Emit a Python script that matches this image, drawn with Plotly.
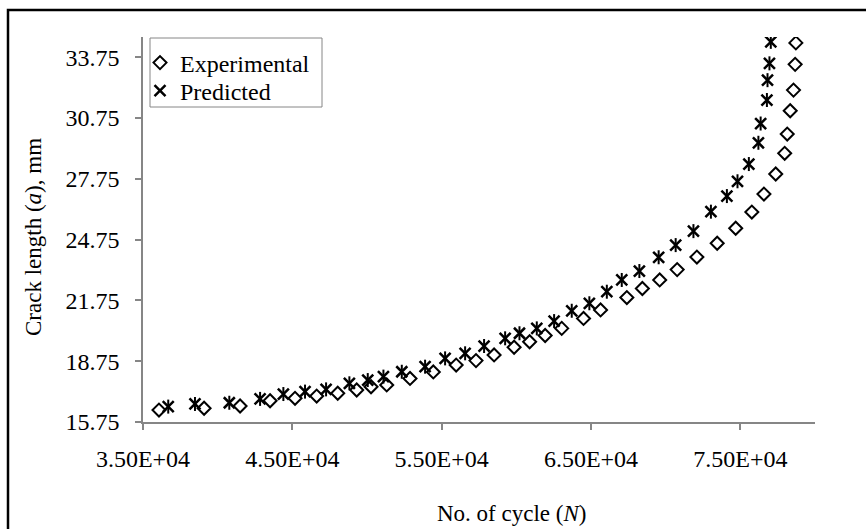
import plotly.graph_objects as go

# ---- data ----
exp_N = [36070, 39090, 41500, 43510, 45180, 46630, 48040, 49310, 50270, 51320,
         52880, 54440, 55970, 57300, 58510, 59850, 60890, 61930, 63040, 64500,
         65640, 67400, 68440, 69600, 70770, 72090, 73450, 74690, 75770, 76580,
         77370, 77970, 78140, 78340, 78560, 78670, 78720]
exp_a = [16.34, 16.43, 16.54, 16.80, 16.92, 17.03, 17.17, 17.33, 17.49, 17.58,
         17.90, 18.22, 18.56, 18.78, 19.06, 19.44, 19.71, 20.02, 20.37, 20.86,
         21.28, 21.89, 22.34, 22.76, 23.27, 23.89, 24.57, 25.31, 26.11, 27.00,
         27.99, 29.01, 29.96, 31.11, 32.13, 33.40, 34.46]

pred_N = [36690, 38480, 40780, 42840, 44400, 45850, 47260, 48820, 50050, 51100,
          52330, 53890, 55230, 56570, 57840, 59250, 60210, 61370, 62530, 63710,
          64890, 66060, 67060, 68240, 69530, 70670, 71860, 73030, 74100, 74810,
          75570, 76210, 76360, 76780, 76820, 76950, 77040]
pred_a = [16.51, 16.64, 16.70, 16.89, 17.13, 17.25, 17.36, 17.66, 17.82, 17.99,
          18.23, 18.48, 18.89, 19.14, 19.50, 19.88, 20.13, 20.37, 20.73, 21.24,
          21.61, 22.18, 22.76, 23.20, 23.88, 24.48, 25.17, 26.13, 26.90, 27.63,
          28.48, 29.53, 30.48, 31.64, 32.62, 33.45, 34.51]

x_tickvals = [35000, 45000, 55000, 65000, 75000]
x_ticktext = ["3.50E+04", "4.50E+04", "5.50E+04", "6.50E+04", "7.50E+04"]
y_tickvals = [15.75, 18.75, 21.75, 24.75, 27.75, 30.75, 33.75]

FONT = "Liberation Serif, Times New Roman, serif"
AXIS_GRAY = "#868686"
TICK_SIZE = 24
TITLE_SIZE = 23
LEGEND_SIZE = 24

fig = go.Figure()
fig.add_trace(go.Scatter(
    x=exp_N, y=exp_a, mode="markers", name="Experimental", legend="legend",
    marker=dict(symbol="diamond-open", size=10, color="black",
                line=dict(color="black", width=2)),
))
fig.add_trace(go.Scatter(
    x=pred_N, y=pred_a, mode="markers", name="Predicted", legend="legend2",
    legendgroup="pred",
    marker=dict(symbol="x-thin-open", size=11, color="black",
                line=dict(color="black", width=2.5)),
))
fig.add_trace(go.Scatter(
    x=pred_N, y=pred_a, mode="markers", name="Predicted", legend="legend2",
    legendgroup="pred", showlegend=False,
    marker=dict(symbol="line-ns-open", size=10, color="black",
                line=dict(color="black", width=2)),
))

W, H = 866, 529
L, R, T, B = 143, 51, 37, 107
pw, ph = W - L - R, H - T - B

def px_x(p):
    return (p - L) / pw

def px_y(p):
    return (H - B - p) / ph

legend_style = dict(
    xanchor="left", yanchor="middle",
    bgcolor="rgba(0,0,0,0)", borderwidth=0,
    font=dict(family=FONT, size=LEGEND_SIZE, color="black"),
    itemwidth=30,
)

fig.update_layout(
    width=W, height=H,
    margin=dict(l=L, r=R, t=T, b=B, pad=0),
    paper_bgcolor="white", plot_bgcolor="white",
    font=dict(family=FONT, size=TICK_SIZE, color="black"),
    showlegend=True,
    legend=dict(x=px_x(140), y=px_y(63), **legend_style),
    legend2=dict(x=px_x(140), y=px_y(91), **legend_style),
    xaxis=dict(
        range=[35000, 80000], tickmode="array",
        tickvals=x_tickvals, ticktext=x_ticktext,
        showgrid=False, zeroline=False, showline=True,
        linecolor=AXIS_GRAY, linewidth=1.5,
        ticks="outside", ticklen=6, tickwidth=1.5, tickcolor=AXIS_GRAY,
        tickfont=dict(family=FONT, size=TICK_SIZE, color="black"),
        ticklabelstandoff=8,
    ),
    yaxis=dict(
        range=[15.75, 34.75], tickmode="array",
        tickvals=y_tickvals, ticktext=[f"{v:.2f}" for v in y_tickvals],
        showgrid=False, zeroline=False, showline=True,
        linecolor=AXIS_GRAY, linewidth=1.5,
        ticks="outside", ticklen=6, tickwidth=1.5, tickcolor=AXIS_GRAY,
        tickfont=dict(family=FONT, size=TICK_SIZE, color="black"),
        ticklabelstandoff=11,
    ),
    annotations=[
        dict(text="No. of cycle (<i>N</i>)", xref="paper", yref="paper",
             x=px_x(511), y=px_y(513), xanchor="center", yanchor="middle",
             showarrow=False, font=dict(family=FONT, size=TITLE_SIZE, color="black")),
        dict(text="Crack length (<i>a</i>), mm", xref="paper", yref="paper",
             x=px_x(34), y=px_y(237), xanchor="center", yanchor="middle",
             textangle=-90, showarrow=False,
             font=dict(family=FONT, size=TITLE_SIZE, color="black")),
    ],
    shapes=[
        # legend box
        dict(type="rect", xref="paper", yref="paper",
             x0=px_x(150), y0=px_y(107), x1=px_x(322), y1=px_y(38),
             line=dict(color=AXIS_GRAY, width=1), fillcolor="white",
             layer="below"),
        # outer chart frame (cropped at right and bottom)
        dict(type="rect", xref="paper", yref="paper",
             x0=px_x(8), y0=px_y(560), x1=px_x(900), y1=px_y(10),
             line=dict(color="black", width=2.5), fillcolor="rgba(0,0,0,0)",
             layer="above"),
    ],
)

fig.write_html("out.html", config={"displayModeBar": False})

# remove default page margin so the figure sits at the window's top-left
with open("out.html", "r", encoding="utf-8") as f:
    html = f.read()
html = html.replace("<head>", "<head><style>html,body{margin:0;padding:0;overflow:hidden;}</style>", 1)
with open("out.html", "w", encoding="utf-8") as f:
    f.write(html)
